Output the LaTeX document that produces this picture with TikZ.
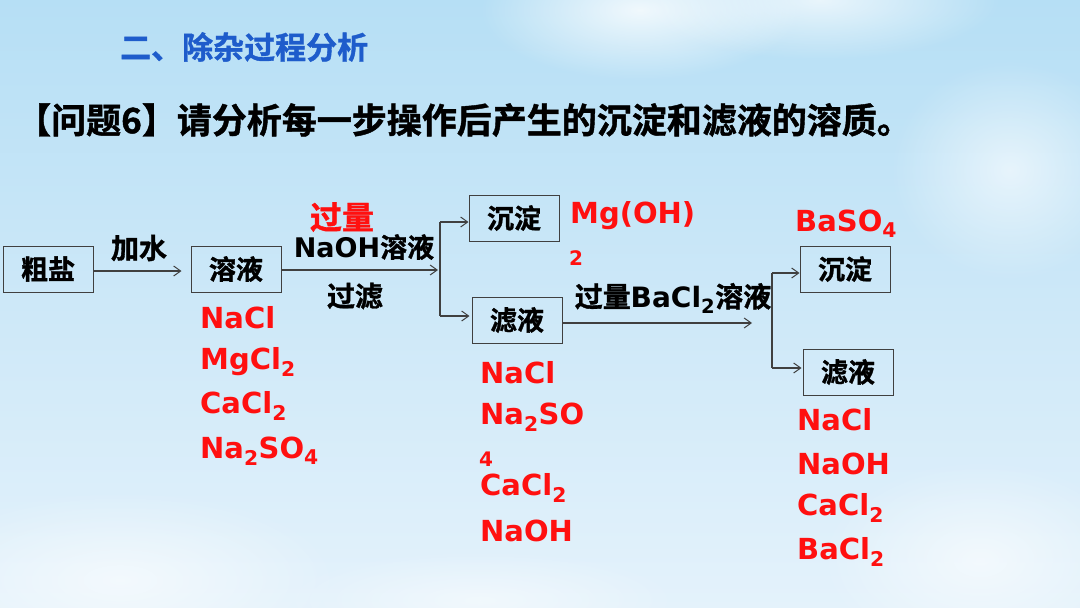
\documentclass[tikz,border=0pt]{standalone}
\usepackage{fontspec}
\setmainfont{DejaVu Sans}
\newfontfamily\cjk{Noto Sans CJK SC}[BoldFont={Noto Sans CJK SC Bold}, BoldFeatures={FakeBold=1.2}]
\usetikzlibrary{arrows.meta,fadings}
\tikzfading[name=cloudfade, inner color=transparent!0, outer color=transparent!100]
\definecolor{skytop}{HTML}{B6DFF5}
\definecolor{skymid}{HTML}{CDE8F8}
\definecolor{skybot}{HTML}{E4F2FB}
\definecolor{redtxt}{HTML}{FF1010}
\definecolor{bluetxt}{HTML}{1E5CCB}
\definecolor{linec}{HTML}{404040}
\newcommand\fsz[1]{\fontsize{#1}{#1}\selectfont}
\newcommand\lsub[1]{\textsubscript{#1}}
\tikzset{
  box/.style={draw=linec, line width=1pt, minimum width=90pt, minimum height=46pt, inner sep=0pt, font=\cjk\bfseries\fsz{27}},
  arr/.style={draw=linec, line width=1.1pt, -{Straight Barb[length=7pt,width=10pt,line width=1pt]}},
  lin/.style={draw=linec, line width=1.1pt},
  chem/.style={text=redtxt, font=\bfseries\fsz{29}, anchor=west, inner sep=0pt},
  lbl/.style={font=\bfseries\fsz{27}, inner sep=0pt},
  cjklbl/.style={font=\cjk\bfseries\fsz{28}, inner sep=0pt},
}
\begin{document}
\begin{tikzpicture}[x=1pt,y=-1pt]
\useasboundingbox (0,0) rectangle (1080,608);
% background
\shade[top color=skytop, bottom color=skybot, middle color=skymid] (0,0) rectangle (1080,608);
\fill[white, opacity=0.8, path fading=cloudfade] (640,10) ellipse (160 and 70);
\fill[white, opacity=0.7, path fading=cloudfade] (820,0) ellipse (180 and 60);
\fill[white, opacity=0.6, path fading=cloudfade] (1010,170) ellipse (120 and 110);
\fill[white, opacity=0.6, path fading=cloudfade] (120,580) ellipse (220 and 90);
\fill[white, opacity=0.6, path fading=cloudfade] (980,560) ellipse (160 and 100);
\fill[white, opacity=0.5, path fading=cloudfade] (480,600) ellipse (200 and 50);
% titles
\node[text=bluetxt, font=\cjk\bfseries\fsz{31}, anchor=west, inner sep=0pt] (t1) at (120,47) {二、除杂过程分析};
\node[font=\cjk\bfseries\fsz{35}, anchor=west, inner sep=0pt] (t2) at (16,120) {【问题6】请分析每一步操作后产生的沉淀和滤液的溶质。};
% boxes
\node[box] (cy) at (48,269) {粗盐};
\node[box] (ry) at (236,269) {溶液};
\node[box] (cd1) at (514,218) {沉淀};
\node[box] (ly1) at (517,320) {滤液};
\node[box] (cd2) at (845,269) {沉淀};
\node[box] (ly2) at (848,372) {滤液};
% connectors
\draw[arr, shorten >=9pt] (cy.east |- 0,271) -- (ry.west |- 0,271);
\coordinate (j1) at (440,270);
\coordinate (j1t) at (440,222);
\coordinate (j1b) at (440,316);
\draw[arr, shorten >=2pt] (ry.east |- j1) -- (j1);
\draw[lin] (j1t) -- (j1b);
\draw[arr] (j1t) -- (j1t -| cd1.west);
\draw[arr, shorten >=2pt] (j1b) -- (j1b -| ly1.west);
\coordinate (j2e) at (752,323);
\coordinate (j2t) at (772,273);
\coordinate (j2b) at (772,368);
\draw[arr] (ly1.east |- j2e) -- (j2e);
\draw[lin] (j2t) -- (j2b);
\draw[arr] (j2t) -- (j2t -| cd2.west);
\draw[arr, shorten >=1pt] (j2b) -- (j2b -| ly2.west);
% labels
\node[cjklbl] (l1) at (139,248) {加水};
\node[cjklbl, text=redtxt, font=\cjk\bfseries\fsz{32}] (l2) at (342,217) {过量};
\node[lbl] (l3) at (364,247) {NaOH{\cjk 溶液}};
\node[cjklbl] (l4) at (355,296) {过滤};
\node[lbl, font=\bfseries\fsz{28}] (l5) at (673,298) {{\cjk 过量}BaCl\lsub{2}{\cjk 溶液}};
% red formulas
\node[chem] (p1) at (570,216) {Mg(OH)};
\node[chem, font=\bfseries\fsz{20}] (p1b) at (569,258) {2};
\node[chem] (p2) at (795,224) {BaSO\lsub{4}};
\node[chem] (a1) at (200,318) {NaCl};
\node[chem] (a2) at (200,362) {MgCl\lsub{2}};
\node[chem] (a3) at (200,406) {CaCl\lsub{2}};
\node[chem] (a4) at (200,451) {Na\lsub{2}SO\lsub{4}};
\node[chem] (b1) at (480,373) {NaCl};
\node[chem] (b2) at (480,417) {Na\lsub{2}SO};
\node[chem, font=\bfseries\fsz{20}] (b2b) at (479,459) {4};
\node[chem] (b3) at (480,488) {CaCl\lsub{2}};
\node[chem] (b4) at (480,531) {NaOH};
\node[chem] (c1) at (797,420) {NaCl};
\node[chem] (c2) at (797,464) {NaOH};
\node[chem] (c3) at (797,508) {CaCl\lsub{2}};
\node[chem] (c4) at (797,552) {BaCl\lsub{2}};
\end{tikzpicture}
\end{document}
